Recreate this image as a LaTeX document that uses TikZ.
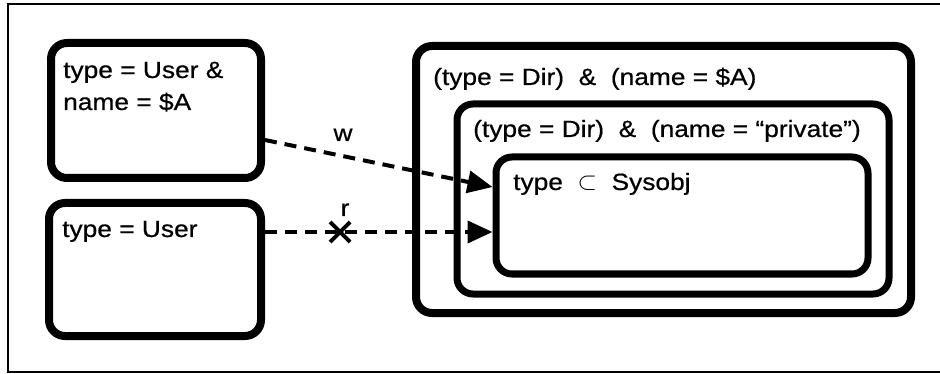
\documentclass[tikz,border=0pt]{standalone}
\usepackage{fontspec}
\setmainfont[FakeStretch=1.12,FakeBold=0.6]{Liberation Sans}
\usetikzlibrary{arrows.meta,calc}
\tikzset{
  box/.style={draw, line width=8pt, rounded corners=16pt, inner sep=0pt, outer sep=4pt},
  innerbox/.style={box, line width=7pt, outer sep=3.5pt},
  lbl/.style={anchor=base west, inner sep=0pt, font=\fontsize{23.5}{32}\selectfont},
  flow/.style={line width=4pt, dash pattern=on 12pt off 8pt,
    -{Triangle[length=25pt,width=22pt]}},
}
\begin{document}
\begin{tikzpicture}[x=1pt,y=-1pt]
\useasboundingbox (0,0) rectangle (940,374);
% outer frame
\draw[line width=1.8pt] (940,4) -- (8,4) -- (8,372) -- (940,372);

% subject boxes
\node[box, minimum width=210pt, minimum height=135pt] (u1) at (156,110.5) {};
\node[box, minimum width=212pt, minimum height=133pt] (u2) at (155,269.5) {};
\node[lbl] (t1) at (63,78) {type = User \&};
\node[lbl] (t2) at (63,110) {name = \$A};
\node[lbl] (t3) at (62,237) {type = User};

% nested object boxes
\node[box, minimum width=495pt, minimum height=267pt] (dir) at (663.5,179.5) {};
\node[innerbox, minimum width=432pt, minimum height=190pt] (priv) at (673,199) {};
\node[innerbox, minimum width=372pt, minimum height=117pt] (sys) at (682,215.5) {};
\node[lbl] (t4) at (433,85) {(type = Dir)\ \ \&\ \ (name = \$A)};
\node[lbl] (t5) at (473,137) {(type = Dir)\ \ \&\ \ (name = “private”)};
\node[lbl] (t6) at (513,190) {type\ \ $\subset$\ \ Sysobj};

% access rights
\draw[flow] ([yshift=-29.5pt]u1.east) -- ([yshift=28.5pt]sys.west);
\node[lbl, anchor=base] (w) at (343,141) {w};

\draw[flow] ([yshift=37.5pt]u2.east) -- coordinate[pos=0.33] (xm) ([yshift=-16.5pt]sys.west);
\draw[line width=4pt] ($(xm)+(-10,-10)$) -- ($(xm)+(10,10)$)
                      ($(xm)+(-10,10)$) -- ($(xm)+(10,-10)$);
\node[lbl, anchor=base] (r) at (345,216) {r};
\end{tikzpicture}
\end{document}
